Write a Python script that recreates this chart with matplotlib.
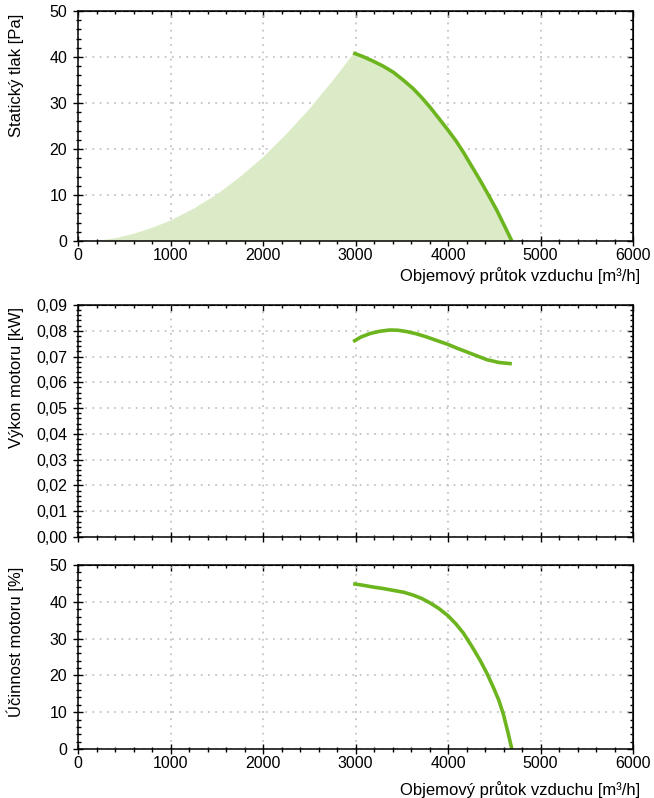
import matplotlib
matplotlib.use("Agg")
import matplotlib.pyplot as plt
from matplotlib.ticker import MultipleLocator, FuncFormatter

plt.rcParams["font.family"] = ["Liberation Sans", "DejaVu Sans"]

# pracovní oblast (systémová křivka)
system_flow = [250, 400, 600, 800, 1000, 1250, 1500, 1750, 2000, 2250, 2500, 2750, 2975]
system_pressure = [0.3, 0.7, 1.7, 3.0, 4.6, 7.2, 10.3, 14.1, 18.4, 23.4, 28.9, 35.0, 40.9]

# statický tlak ventilátoru
flow = [2975, 3080, 3191, 3300, 3408, 3515, 3625, 3715, 3805, 3900, 4000, 4085, 4166,
        4255, 4347, 4437, 4527, 4610, 4690]
pressure = [40.9, 40.1, 39.1, 38.0, 36.7, 35.0, 33.1, 31.2, 29.1, 26.7, 24.1, 21.8, 19.3,
            16.3, 13.2, 10.0, 6.7, 3.3, 0.0]

# příkon motoru
power_flow = [2975, 3060, 3155, 3260, 3372, 3460, 3552, 3660, 3769, 3880, 4000, 4100,
              4202, 4310, 4419, 4550, 4690]
power = [0.0758, 0.0776, 0.0789, 0.0798, 0.0803, 0.0802, 0.0797, 0.0788, 0.0776, 0.0762,
         0.0747, 0.0732, 0.0718, 0.0703, 0.0688, 0.0677, 0.0672]

# účinnost motoru
eff_flow = [2975, 3080, 3191, 3300, 3408, 3520, 3625, 3715, 3805, 3900, 4000, 4085, 4166,
            4255, 4347, 4420, 4491, 4550, 4599, 4645, 4690]
efficiency = [44.9, 44.5, 44.0, 43.6, 43.1, 42.6, 41.8, 40.9, 39.7, 38.2, 36.2, 34.0, 31.5,
              28.0, 24.1, 20.6, 16.7, 13.2, 9.4, 4.8, 0.0]

GREEN = "#6db51f"
FILL = "#dcebc7"
GRID = "#c4c4c4"
XLABEL = "Objemový průtok vzduchu [m³/h]"


def style_axes(ax, ystep, yminor, ymax, xlabels=True):
    ax.set_xlim(0, 6000)
    ax.set_ylim(0, ymax)
    ax.xaxis.set_major_locator(MultipleLocator(1000))
    ax.xaxis.set_minor_locator(MultipleLocator(200))
    ax.yaxis.set_major_locator(MultipleLocator(ystep))
    ax.yaxis.set_minor_locator(MultipleLocator(yminor))
    ax.grid(True, which="major", color=GRID, linestyle=(0, (1, 3)), linewidth=1.3)
    ax.set_axisbelow(True)
    for s in ax.spines.values():
        s.set_linewidth(1.1)
    ax.tick_params(which="both", direction="inout", labelsize=11.5, width=1.0, top=False, right=False)
    ax.tick_params(which="major", length=6.5)
    ax.tick_params(which="minor", length=3.6)
    ax.tick_params(axis="x", pad=2)
    ax.tick_params(axis="y", pad=4.5)
    if not xlabels:
        ax.tick_params(axis="x", labelbottom=False)
    # vnitřní značky nahoře a vpravo
    top = ax.secondary_xaxis("top")
    top.xaxis.set_major_locator(MultipleLocator(1000))
    top.xaxis.set_minor_locator(MultipleLocator(200))
    top.tick_params(which="both", direction="in", labeltop=False, width=1.0)
    top.tick_params(which="major", length=4)
    top.tick_params(which="minor", length=2.5)
    right = ax.secondary_yaxis("right")
    right.yaxis.set_major_locator(MultipleLocator(ystep))
    right.yaxis.set_minor_locator(MultipleLocator(yminor))
    right.tick_params(which="both", direction="in", labelright=False, width=1.0)
    right.tick_params(which="major", length=4)
    right.tick_params(which="minor", length=2.5)


fig = plt.figure(figsize=(6.54, 7.98), dpi=100)
ax1 = fig.add_axes([0.1193, 0.698, 0.8486, 0.2882])
ax2 = fig.add_axes([0.1193, 0.3271, 0.8486, 0.2907])
ax3 = fig.add_axes([0.1193, 0.0614, 0.8486, 0.2306])

# horní graf: statický tlak
ax1.fill_between(system_flow + flow, system_pressure + pressure, 0, color=FILL, linewidth=0)
ax1.plot(flow, pressure, color=GREEN, linewidth=2.6, solid_capstyle="butt", solid_joinstyle="round")
style_axes(ax1, 10, 2, 50)
ax1.set_ylabel("Statický tlak [Pa]", fontsize=12, loc="top")
ax1.yaxis.set_label_coords(-0.097, 0.99)
ax1.set_xlabel(XLABEL, fontsize=12, loc="right")
ax1.xaxis.set_label_coords(1.013, -0.115)

# prostřední graf: výkon motoru
ax2.plot(power_flow, power, color=GREEN, linewidth=2.6, solid_capstyle="butt", solid_joinstyle="round")
style_axes(ax2, 0.01, 0.002, 0.09, xlabels=False)
ax2.yaxis.set_major_formatter(FuncFormatter(lambda v, p: f"{v:.2f}".replace(".", ",")))
ax2.set_ylabel("Výkon motoru [kW]", fontsize=12, loc="top")
ax2.yaxis.set_label_coords(-0.097, 0.99)

# dolní graf: účinnost motoru
ax3.plot(eff_flow, efficiency, color=GREEN, linewidth=2.6, solid_capstyle="butt", solid_joinstyle="round")
style_axes(ax3, 10, 2, 50)
ax3.set_ylabel("Účinnost motoru [%]", fontsize=12, loc="top")
ax3.yaxis.set_label_coords(-0.097, 0.99)
ax3.set_xlabel(XLABEL, fontsize=12, loc="right")
ax3.xaxis.set_label_coords(1.013, -0.175)

fig.savefig("out.png", dpi=100)
